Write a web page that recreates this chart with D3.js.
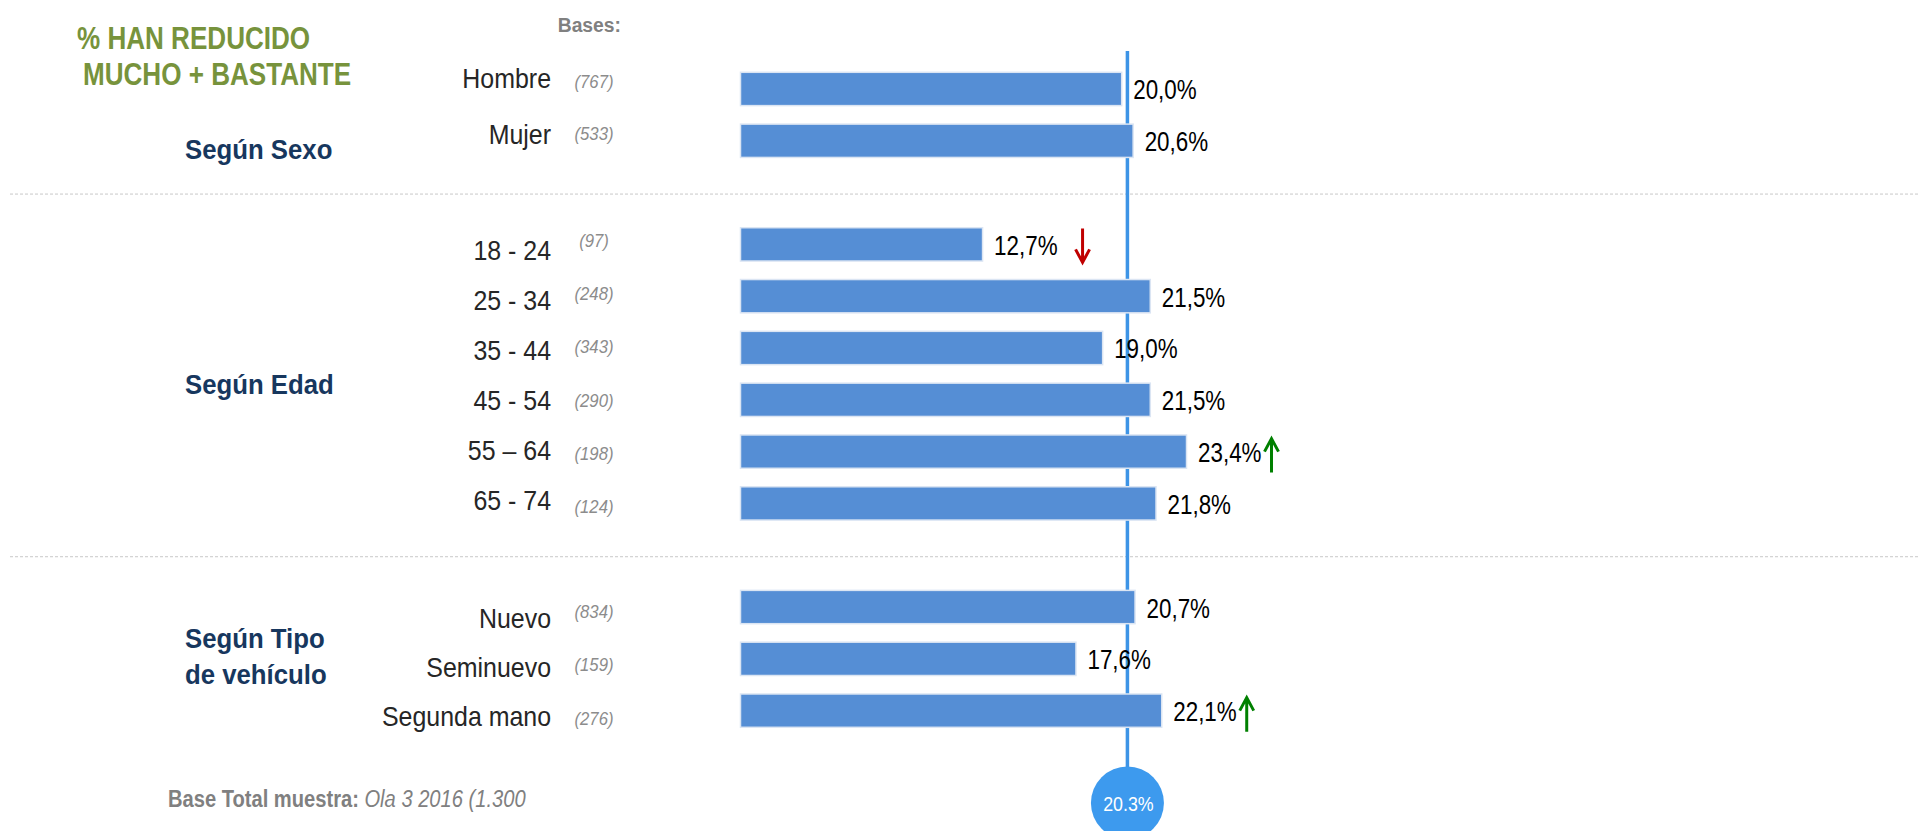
<!DOCTYPE html>
<html>
<head>
<meta charset="utf-8">
<script src="https://cdn.jsdelivr.net/npm/d3@7"></script>
<style>
  html, body { margin: 0; padding: 0; background: #ffffff; }
  svg { display: block; font-family: "Liberation Sans", Arial, sans-serif; }
</style>
</head>
<body>
<svg id="svgCanvas" width="1919" height="831"></svg>
<script>
// data
let groupTitles = [["Según Sexo"], ["Según Edad"], ["Según Tipo", "de vehículo"]];
let categories = ["Hombre", "Mujer", "18 - 24", "25 - 34", "35 - 44", "45 - 54", "55 – 64", "65 - 74", "Nuevo", "Seminuevo", "Segunda mano"];
let groupOf = [0, 0, 1, 1, 1, 1, 1, 1, 2, 2, 2];
let values = [20.0, 20.6, 12.7, 21.5, 19.0, 21.5, 23.4, 21.8, 20.7, 17.6, 22.1];
let bases = [767, 533, 97, 248, 343, 290, 198, 124, 834, 159, 276];
let trends = ["", "", "down", "", "", "", "up", "", "", "", "up"];
let totalValue = 20.3;

// layout of the text stacks (they don't sit exactly on the bars in the original)
let labelLayout = [{y0: 87.5, dy: 56.5}, {y0: 259.5, dy: 50}, {y0: 627.5, dy: 49}];
let baseLayout = [{y0: 88, dy: 51.6}, {y0: 247, dy: 53.2}, {y0: 617.5, dy: 53.6}];
let titleBaselines = [158.5, 393.5, 647.5];

// the slide font is a narrow face: squeeze Liberation Sans horizontally
let squeeze = (sel, fx, fy, sx) =>
    sel.attr('transform', (d, i) => 'translate(' + fx(d, i) + ',' + fy(d, i) + ') scale(' + sx + ',1)');

window.addEventListener('DOMContentLoaded', (event) => {
    let svg = d3.select('#svgCanvas');

    let x = d3.scaleLinear().domain([0, 25]).range([740.5, 740.5 + 19.06 * 25]);
    // one slot per row, one empty slot between groups
    let y = d3.scaleBand().domain(d3.range(13)).range([72.3, 727.3]).paddingInner(0.357);
    let slot = i => i + groupOf[i];
    let firstOfGroup = g => groupOf.indexOf(g);
    let posInGroup = i => i - firstOfGroup(groupOf[i]);

    let rows = categories.map((c, i) => ({
        cat: c, value: values[i], base: bases[i], trend: trends[i], group: groupOf[i], i: i
    }));

    // title
    let title = svg.append('g').selectAll('text')
        .data(["% HAN REDUCIDO", "MUCHO + BASTANTE"])
        .join('text')
        .attr('fill', '#77933c')
        .attr('font-weight', 'bold')
        .attr('font-size', 30.5)
        .text(d => d);
    squeeze(title, (d, i) => i === 0 ? 77 : 83, (d, i) => i === 0 ? 48.5 : 85, 0.855);

    squeeze(svg.append('text')
        .attr('text-anchor', 'end')
        .attr('fill', '#808080')
        .attr('font-weight', 'bold')
        .attr('font-size', 21)
        .text('Bases:'), () => 621, () => 31.5, 0.92);

    // dotted separators in the empty slots
    let gapSlots = d3.range(1, groupTitles.length).map(g => firstOfGroup(g) + g - 1);
    svg.append('g').selectAll('line')
        .data(gapSlots)
        .join('line')
        .attr('x1', 10).attr('x2', 1919)
        .attr('y1', d => y(d) + y.bandwidth() / 2 + 1.5)
        .attr('y2', d => y(d) + y.bandwidth() / 2 + 1.5)
        .attr('stroke', '#c8c8c8')
        .attr('stroke-width', 1)
        .attr('stroke-dasharray', '3,2');

    // group titles
    let gt = svg.append('g').selectAll('text')
        .data(groupTitles)
        .join('text')
        .attr('fill', '#17375e')
        .attr('font-weight', 'bold')
        .attr('font-size', 28);
    squeeze(gt, () => 185, (d, g) => titleBaselines[g], 0.92);
    gt.selectAll('tspan')
        .data(d => d)
        .join('tspan')
        .attr('x', 0)
        .attr('dy', (d, k) => k === 0 ? 0 : 36.5)
        .text(d => d);

    // reference line + circle
    let cx = x(totalValue);
    let cy = 803;
    svg.append('line')
        .attr('x1', cx).attr('x2', cx)
        .attr('y1', 51).attr('y2', cy - 36)
        .attr('stroke', '#3d94e6')
        .attr('stroke-width', 3.5);

    // bars
    svg.append('g').selectAll('rect')
        .data(rows)
        .join('rect')
        .attr('x', x(0))
        .attr('y', d => y(slot(d.i)))
        .attr('width', d => x(d.value) - x(0))
        .attr('height', y.bandwidth())
        .attr('fill', '#558ed5')
        .attr('stroke', '#dbe5f3')
        .attr('stroke-width', 1.5);

    svg.append('circle')
        .attr('cx', cx).attr('cy', cy).attr('r', 36.5)
        .attr('fill', '#3d9aee');
    squeeze(svg.append('text')
        .attr('text-anchor', 'middle')
        .attr('fill', '#ffffff')
        .attr('font-size', 21)
        .text(totalValue.toFixed(1) + '%'), () => cx + 1, () => cy + 8, 0.85);

    // category labels
    let catLabels = svg.append('g').selectAll('text')
        .data(rows)
        .join('text')
        .attr('text-anchor', 'end')
        .attr('fill', '#262626')
        .attr('font-size', 28)
        .text(d => d.cat);
    squeeze(catLabels, () => 551,
        d => labelLayout[d.group].y0 + posInGroup(d.i) * labelLayout[d.group].dy, 0.89);

    // bases
    let baseLabels = svg.append('g').selectAll('text')
        .data(rows)
        .join('text')
        .attr('text-anchor', 'middle')
        .attr('fill', '#8c8c8c')
        .attr('font-style', 'italic')
        .attr('font-size', 19)
        .text(d => '(' + d.base + ')');
    squeeze(baseLabels, () => 594,
        d => baseLayout[d.group].y0 + posInGroup(d.i) * baseLayout[d.group].dy, 0.88);

    // value labels
    let valueSx = 0.8;
    let valueLabels = svg.append('g').selectAll('text')
        .data(rows)
        .join('text')
        .attr('fill', '#000000')
        .attr('font-size', 28)
        .text(d => d.value.toFixed(1).replace('.', ',') + '%');
    squeeze(valueLabels, d => x(d.value) + 11.5, d => y(slot(d.i)) + y.bandwidth() / 2 + 10.5, valueSx);

    // significance arrows after the labels
    let widths = valueLabels.nodes().map(n => n.getComputedTextLength() * valueSx);
    let arrows = svg.append('g').selectAll('g')
        .data(rows.filter(d => d.trend !== ''))
        .join('g')
        .attr('stroke', d => d.trend === 'up' ? '#008000' : '#c00000')
        .attr('stroke-width', 3)
        .attr('fill', 'none');

    arrows.each(function (d) {
        let ax = x(d.value) + 11.5 + widths[d.i] + (d.trend === 'up' ? 10 : 25);
        let mid = y(slot(d.i)) + y.bandwidth() / 2;
        let top = d.trend === 'up' ? mid - 13 : mid - 16;
        let bottom = d.trend === 'up' ? mid + 21 : mid + 18;
        let tip = d.trend === 'up' ? top : bottom;
        let back = d.trend === 'up' ? top + 13 : bottom - 13;
        let p = d3.path();
        p.moveTo(ax, top);
        p.lineTo(ax, bottom);
        p.moveTo(ax - 7, back);
        p.lineTo(ax, tip);
        p.lineTo(ax + 7, back);
        d3.select(this).append('path').attr('d', p.toString());
    });

    // footer
    let foot = svg.append('text')
        .attr('fill', '#808080')
        .attr('font-size', 23);
    squeeze(foot, () => 168, () => 806.5, 0.875);
    foot.append('tspan').attr('font-weight', 'bold').text('Base Total muestra: ');
    foot.append('tspan').attr('font-style', 'italic').text('Ola 3 2016 (1.300');
});
</script>
</body>
</html>
